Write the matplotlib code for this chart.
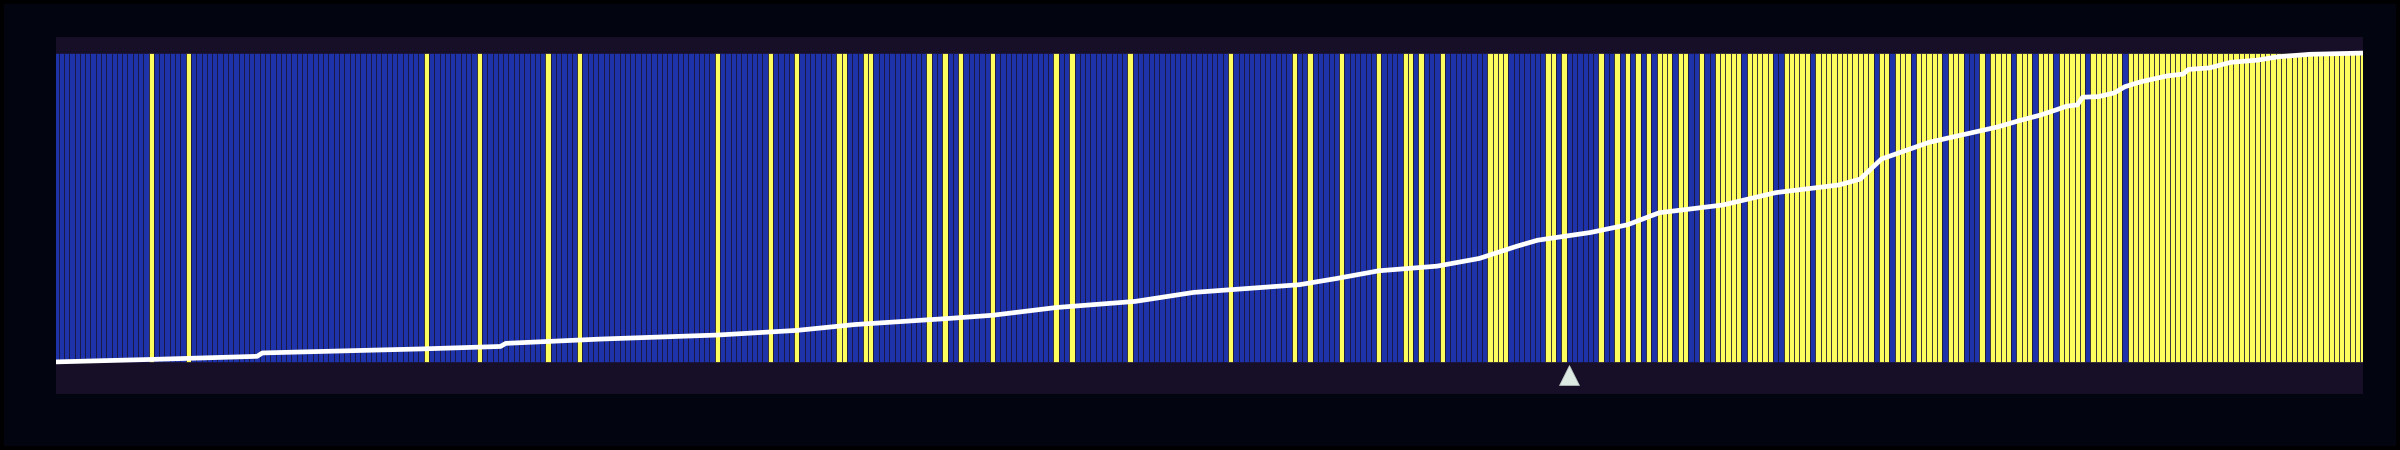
import numpy as np
import matplotlib
matplotlib.use("Agg")
import matplotlib.pyplot as plt

# ---- data ----
N_ITEMS = 437
# alternating run lengths of class labels along the sorted order, starting with class 0 (blue)
label_runs = [18, 1, 6, 1, 44, 1, 9, 1, 12, 1, 5, 1, 25, 1, 9, 1, 4, 1, 7, 2, 3, 2, 10, 1,
              2, 1, 2, 1, 5, 1, 11, 1, 2, 1, 10, 1, 18, 1, 11, 1, 2, 1, 5, 1, 6, 1, 4, 2,
              1, 1, 3, 1, 8, 4, 7, 2, 1, 1, 6, 1, 2, 1, 1, 1, 1, 1, 1, 1, 1, 3, 1, 2,
              2, 1, 2, 5, 1, 5, 2, 5, 1, 11, 1, 2, 1, 3, 1, 5, 1, 3, 3, 1, 1, 4, 1, 3,
              1, 3, 1, 5, 1, 6, 1, 45]
# sorted score curve (vertices: item index, score)
curve_idx = [0, 18, 38, 39, 69, 84, 85, 103, 125, 140, 151, 169, 177, 189, 204, 215,
             235, 242, 250, 261, 269, 276, 280, 290, 297, 303, 315, 325, 337, 341, 345,
             354, 367, 371, 375, 378, 380, 382, 383, 386, 389, 391, 394, 399, 402, 403,
             407, 411, 416, 420, 426, 436]
curve_val = [0.0, 0.008, 0.018, 0.029, 0.042, 0.05, 0.06, 0.074, 0.087, 0.102, 0.121,
             0.141, 0.151, 0.176, 0.196, 0.225, 0.25, 0.27, 0.295, 0.31, 0.335, 0.374,
             0.394, 0.419, 0.444, 0.483, 0.508, 0.548, 0.573, 0.592, 0.657, 0.711,
             0.761, 0.781, 0.799, 0.816, 0.828, 0.832, 0.857, 0.859, 0.871, 0.891,
             0.907, 0.926, 0.932, 0.947, 0.952, 0.970, 0.977, 0.988, 0.996, 1.0]
threshold_idx = 286

# ---- build labels ----
labels = []
cls = 0
for r in label_runs:
    labels += [cls] * r
    cls = 1 - cls
labels = np.array(labels[:N_ITEMS])
idx = np.arange(len(labels))

BLUE = "#1e32aa"
YELLOW = "#fdfd5e"
colors = [YELLOW if l == 1 else BLUE for l in labels]

fig = plt.figure(figsize=(24, 4.5), dpi=100)
fig.patch.set_facecolor("#02040f")
fig.patch.set_edgecolor("#000000")
fig.patch.set_linewidth(4.5)

ax = fig.add_axes([0.02333, 0.1244, 0.98458 - 0.02333, 0.9171 - 0.1244])
ax.set_facecolor("#170e28")
ax.bar(idx, np.ones(len(idx)), width=1.0, color=colors, edgecolor="#1a1330",
       linewidth=0.5, zorder=2)
ax.plot(curve_idx, curve_val, color="white", lw=3.4, zorder=3,
        solid_joinstyle="round", solid_capstyle="butt")
ax.plot([threshold_idx], [-0.042], marker="^", ms=14, color="#dde9e3",
        mec="#b9c6c0", mew=0.5, zorder=4, clip_on=False)

ax.set_xlim(0, len(idx) - 1)
ax.set_ylim(-0.104, 1.051)
ax.set_xticks([])
ax.set_yticks([])
for s in ax.spines.values():
    s.set_visible(False)

fig.savefig("out.png", dpi=100, facecolor=fig.get_facecolor(), edgecolor=fig.get_edgecolor())
